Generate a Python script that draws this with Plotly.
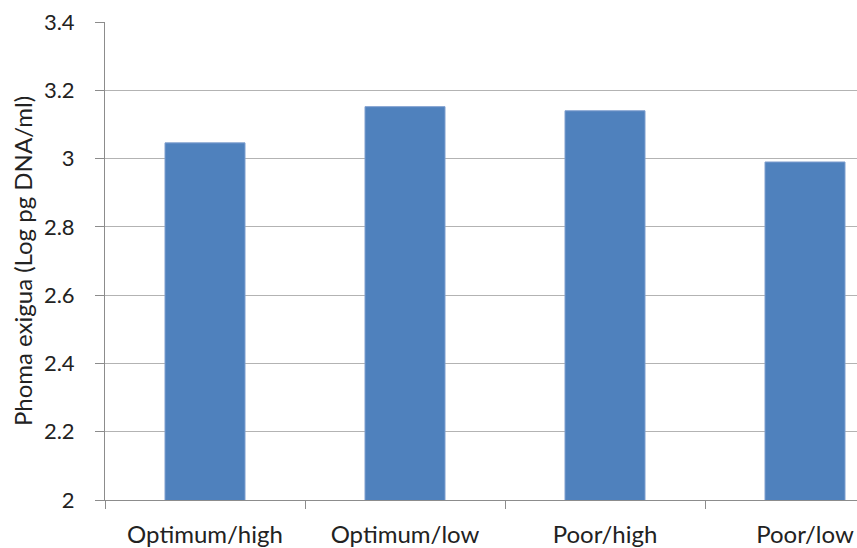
import plotly.graph_objects as go

# Phoma exigua DNA by treatment
categories = ["Optimum/high", "Optimum/low", "Poor/high", "Poor/low"]
values = [3.046, 3.152, 3.14, 2.99]
y_ticks = [2, 2.2, 2.4, 2.6, 2.8, 3, 3.2, 3.4]
y_tick_text = ["2", "2.2", "2.4", "2.6", "2.8", "3", "3.2", "3.4"]

FONT = "Lato, Open Sans, sans-serif"

fig = go.Figure(
    go.Bar(
        x=categories,
        y=values,
        width=0.4,
        marker=dict(color="#4f81bd", line=dict(color="#7f9fcf", width=1)),
    )
)

fig.update_layout(
    width=857,
    height=548,
    margin=dict(l=105, r=0, t=22, b=46),
    paper_bgcolor="white",
    plot_bgcolor="white",
    showlegend=False,
    font=dict(family=FONT, color="#222222"),
)

fig.update_xaxes(
    type="category",
    range=[-0.5, 3.26],
    tickson="boundaries",
    ticks="outside",
    ticklen=8,
    tickcolor="#8c8c8c",
    showline=True,
    linecolor="#8c8c8c",
    linewidth=1,
    showgrid=False,
    tickfont=dict(size=24, family=FONT, color="#222222"),
    ticklabelstandoff=13,
)

fig.update_yaxes(
    range=[2, 3.4],
    tickvals=y_ticks,
    ticktext=y_tick_text,
    ticks="outside",
    ticklen=9,
    tickcolor="#8c8c8c",
    showline=True,
    linecolor="#8c8c8c",
    linewidth=1,
    showgrid=True,
    gridcolor="#b3b3b3",
    gridwidth=1,
    zeroline=False,
    tickfont=dict(size=22, family=FONT, color="#222222"),
    ticklabelstandoff=16,
    title=dict(text="Phoma exigua (Log pg DNA/ml)", font=dict(size=24, family=FONT, color="#222222"), standoff=4),
)

fig.write_html("out.html")
